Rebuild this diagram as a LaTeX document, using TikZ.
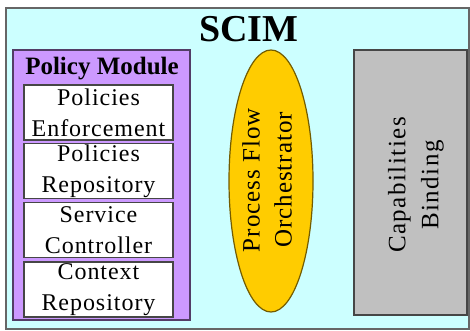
\documentclass[tikz,border=0pt]{standalone}
\usepackage{fontspec}
\setmainfont{Liberation Serif}
\newfontfamily\spacedA{Liberation Serif}[LetterSpace=4]
\newfontfamily\spacedB{Liberation Serif}[LetterSpace=6]
\usetikzlibrary{shapes.geometric}
\definecolor{bgcyan}{RGB}{204,255,255}
\definecolor{pmpurple}{RGB}{204,153,255}
\definecolor{orchyellow}{RGB}{255,204,0}
\definecolor{capgray}{RGB}{192,192,192}
\definecolor{edgegray}{RGB}{70,70,70}
\tikzset{
  subbox/.style={draw=edgegray, line width=1.3pt, fill=white, minimum width=149pt, minimum height=55pt, inner sep=0pt, align=center, font=\fontsize{24}{31}\spacedA},
  frame/.style={draw=edgegray, line width=1.3pt},
  vlabel/.style={rotate=90, inner sep=0pt, align=center},
}
\begin{document}
\begin{tikzpicture}[x=1pt,y=-1pt]
\useasboundingbox (0,0) rectangle (470,331);
\fill[white] (0,0) rectangle (470,331);
\draw[frame, fill=bgcyan, draw=gray!80!black] (6,8) rectangle (469,329);
\node[anchor=base, font=\fontsize{38}{40}\selectfont\bfseries, inner sep=0pt] (title) at (249,42) {SCIM};
\draw[frame, fill=pmpurple, draw=black!60!pmpurple] (13,50) rectangle (190,320);
\node[anchor=base, font=\fontsize{25}{27}\selectfont\bfseries, inner sep=0pt] (pmtitle) at (102,75) {Policy Module};
\node[subbox] (pe) at (98.5,112.5) {Policies\\Enforcement};
\node[subbox] (pr) at (98.5,171) {Policies\\Repository};
\node[subbox] (sc) at (98.5,230) {Service\\Controller};
\node[subbox] (cr) at (98.5,289.5) {Context\\Repository};
\node[ellipse, draw=black!55!orchyellow, line width=1.2pt, fill=orchyellow, minimum width=84pt, minimum height=262pt, inner sep=0pt] (pfo) at (271,181) {};
\node[vlabel, font=\fontsize{25}{32}\spacedA] (pfotext) at (267,180) {Process Flow\\Orchestrator};
\node[rectangle, draw=edgegray, line width=1.3pt, fill=capgray, minimum width=113pt, minimum height=265pt, inner sep=0pt] (cb) at (410.5,182.5) {};
\node[vlabel, font=\fontsize{25}{33}\spacedB] (cbtext) at (416,185) {Capabilities\\Binding};
\end{tikzpicture}
\end{document}
